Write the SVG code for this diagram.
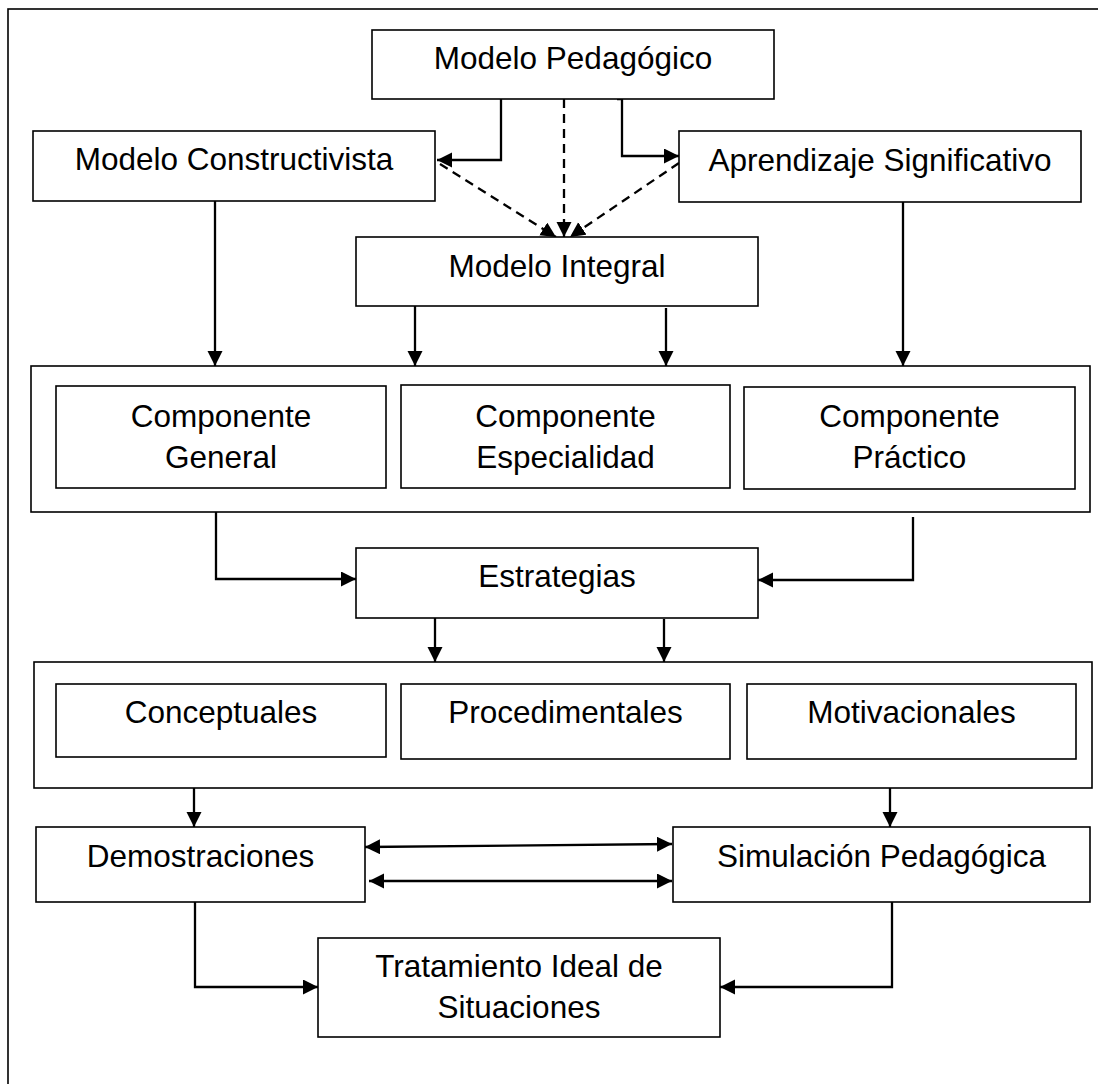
<svg xmlns="http://www.w3.org/2000/svg" width="1098" height="1084" viewBox="0 0 1098 1084">
<style>
.box{fill:#fff;stroke:#000;stroke-width:1.6}
.t{font-family:"Liberation Sans",Arial,sans-serif;font-size:31.5px;fill:#000;text-anchor:middle}
.c{fill:none;stroke:#000;stroke-width:2.3}
.d{fill:none;stroke:#000;stroke-width:2.3;stroke-dasharray:9,6}
</style>
<defs>
<marker id="ah" markerUnits="userSpaceOnUse" markerWidth="18" markerHeight="18" refX="15" refY="7.5" orient="auto-start-reverse">
<path d="M0,0 L15,7.5 L0,15 Z" fill="#000"/>
</marker>
</defs>
<rect x="8" y="9" width="1100" height="1100" fill="#fff" stroke="#000" stroke-width="1.6"/>

<g id="connectors">
<path class="c" d="M501,99 V160 H437" marker-end="url(#ah)"/>
<path class="c" d="M617,99 H622 V156 H679" marker-end="url(#ah)"/>
<path class="d" d="M564,99 V237" marker-end="url(#ah)"/>
<path class="d" d="M440,164 L556,237" marker-end="url(#ah)"/>
<path class="d" d="M679,163 L570,237" marker-end="url(#ah)"/>
<path class="c" d="M215,201 V366" marker-end="url(#ah)"/>
<path class="c" d="M415,306 V366" marker-end="url(#ah)"/>
<path class="c" d="M666,308 V366" marker-end="url(#ah)"/>
<path class="c" d="M903,202 V366" marker-end="url(#ah)"/>
<path class="c" d="M216,512 V579 H356" marker-end="url(#ah)"/>
<path class="c" d="M913,517 V580 H758" marker-end="url(#ah)"/>
<path class="c" d="M435,618 V662" marker-end="url(#ah)"/>
<path class="c" d="M664,619 V662" marker-end="url(#ah)"/>
<path class="c" d="M194,788 V827" marker-end="url(#ah)"/>
<path class="c" d="M890,788 V827" marker-end="url(#ah)"/>
<path class="c" d="M365,847 L672,844" marker-start="url(#ah)" marker-end="url(#ah)"/>
<path class="c" d="M369,881 H672" marker-start="url(#ah)" marker-end="url(#ah)"/>
<path class="c" d="M195,902 V987 H318" marker-end="url(#ah)"/>
<path class="c" d="M892,902 V987 H720" marker-end="url(#ah)"/>
</g>

<g id="modelo-pedagogico"><rect class="box" x="372" y="30" width="402" height="69"/><text class="t" x="573" y="69">Modelo Pedagógico</text></g>
<g id="modelo-constructivista"><rect class="box" x="33" y="131" width="402" height="70"/><text class="t" x="234" y="170">Modelo Constructivista</text></g>
<g id="aprendizaje-significativo"><rect class="box" x="679" y="131" width="402" height="71"/><text class="t" x="880" y="171">Aprendizaje Significativo</text></g>
<g id="modelo-integral"><rect class="box" x="356" y="237" width="402" height="69"/><text class="t" x="557" y="277">Modelo Integral</text></g>

<g id="componentes"><rect class="box" x="31" y="366" width="1059" height="146"/></g>
<g id="componente-general"><rect class="box" x="56" y="386" width="330" height="102"/><text class="t" x="221" y="427">Componente</text><text class="t" x="221" y="468">General</text></g>
<g id="componente-especialidad"><rect class="box" x="401" y="385" width="329" height="103"/><text class="t" x="565.5" y="427">Componente</text><text class="t" x="565.5" y="468">Especialidad</text></g>
<g id="componente-practico"><rect class="box" x="744" y="387" width="331" height="102"/><text class="t" x="909.5" y="427">Componente</text><text class="t" x="909.5" y="468">Práctico</text></g>

<g id="estrategias"><rect class="box" x="356" y="548" width="402" height="70"/><text class="t" x="557" y="587">Estrategias</text></g>

<g id="tipos-estrategias"><rect class="box" x="34" y="662" width="1058" height="126"/></g>
<g id="conceptuales"><rect class="box" x="56" y="684" width="330" height="73"/><text class="t" x="221" y="723">Conceptuales</text></g>
<g id="procedimentales"><rect class="box" x="401" y="684" width="329" height="75"/><text class="t" x="565.5" y="723">Procedimentales</text></g>
<g id="motivacionales"><rect class="box" x="747" y="684" width="329" height="75"/><text class="t" x="911.5" y="723">Motivacionales</text></g>

<g id="demostraciones"><rect class="box" x="36" y="827" width="329" height="75"/><text class="t" x="200.5" y="867">Demostraciones</text></g>
<g id="simulacion-pedagogica"><rect class="box" x="673" y="827" width="417" height="75"/><text class="t" x="881.5" y="867">Simulación Pedagógica</text></g>

<g id="tratamiento-ideal"><rect class="box" x="318" y="938" width="402" height="99"/><text class="t" x="519" y="977">Tratamiento Ideal de</text><text class="t" x="519" y="1018">Situaciones</text></g>
</svg>
